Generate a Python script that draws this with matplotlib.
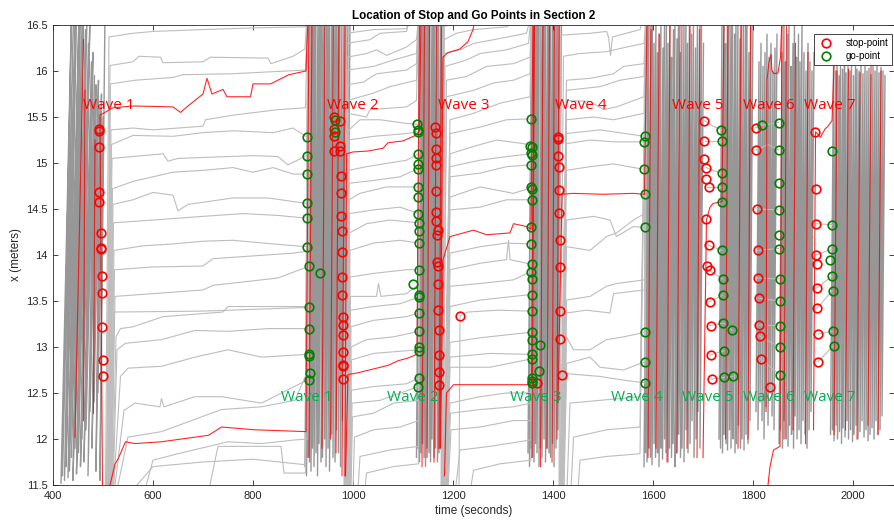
import numpy as np
import matplotlib.pyplot as plt
from matplotlib.ticker import FuncFormatter

plt.rcParams['font.family'] = ['Liberation Sans', 'DejaVu Sans']

# stop points (time s, position m)
stop_t = [492, 492, 492, 492, 493, 496, 497, 497, 498, 498, 499, 500, 501,
          963, 975, 963, 963, 975, 963, 975, 976, 977, 977, 979, 979, 979, 979, 980, 980, 980, 980, 980, 981, 981,
          1164, 1167, 1166, 1166, 1167, 1167, 1167, 1167, 1170, 1169, 1169, 1170, 1170, 1170, 1172, 1172, 1173, 1173,
          1215, 1368,
          1409, 1410, 1410, 1411, 1411, 1411, 1413, 1413, 1414, 1414, 1417,
          1701, 1701, 1701, 1705, 1706, 1711, 1706, 1711, 1707, 1713, 1714, 1715, 1715, 1717,
          1805, 1806, 1807, 1809, 1810, 1812, 1812, 1813, 1815, 1833,
          1924, 1925, 1926, 1926, 1927, 1928, 1928, 1930, 1930]
stop_x = [15.37, 15.35, 15.17, 14.68, 14.58, 14.24, 14.08, 14.07, 13.77, 13.59, 13.22, 12.86, 12.68,
          15.50, 15.46, 15.37, 15.29, 15.19, 15.13, 15.13, 14.86, 14.67, 14.42, 14.26, 14.03, 13.76, 13.57,
          13.33, 13.24, 13.13, 12.95, 12.80, 12.79, 12.65,
          15.39, 15.33, 15.15, 15.05, 14.98, 14.70, 14.47, 14.37, 14.27, 14.22, 13.92, 13.88, 13.68, 13.40,
          13.18, 12.91, 12.73, 12.59,
          13.34, 12.61,
          15.28, 15.26, 15.08, 14.96, 14.71, 14.46, 14.16, 13.87, 13.39, 13.09, 12.70,
          15.46, 15.24, 15.04, 14.95, 14.83, 14.74, 14.39, 14.11, 13.88, 13.84, 13.49, 13.23, 12.91, 12.65,
          15.38, 15.14, 14.50, 14.05, 13.75, 13.53, 13.24, 13.12, 12.87, 12.57,
          15.34, 14.72, 14.34, 14.00, 13.90, 13.64, 13.42, 13.14, 12.84]

# go points
go_t = [909, 909, 909, 909, 909, 909, 912, 935, 912, 912, 912, 913, 915, 912,
        964, 965, 1129, 1131, 1131, 1131, 1131, 1131, 1131, 1131, 1131, 1132, 1132, 1132, 1133, 1121,
        1133, 1133, 1133, 1133, 1133, 1133, 1133, 1131,
        1356, 1353, 1358, 1356, 1358, 1356, 1356, 1358, 1358, 1356, 1356,
        1358, 1356, 1358, 1358, 1358, 1358, 1358, 1374, 1358, 1358, 1371, 1358, 1358, 1358,
        1583, 1582, 1582, 1583, 1583, 1583, 1583, 1584,
        1736, 1737, 1737, 1737, 1737, 1737, 1739, 1740, 1740, 1758, 1741, 1741, 1759,
        1817, 1851, 1851, 1851, 1851, 1851, 1851, 1853, 1853, 1854, 1854, 1854,
        1958, 1958, 1958, 1954, 1958, 1959, 1959, 1961]
go_x = [15.28, 15.08, 14.88, 14.56, 14.40, 14.09, 13.88, 13.80, 13.43, 13.20, 12.92, 12.90, 12.72, 12.64,
        15.47, 15.34, 15.42, 15.36, 15.34, 15.10, 14.99, 14.94, 14.74, 14.63, 14.45, 14.35, 14.26, 14.13,
        13.84, 13.68, 13.57, 13.54, 13.37, 13.17, 13.00, 12.96, 12.66, 12.57,
        15.48, 15.19, 15.17, 15.11, 15.09, 14.98, 14.74, 14.72, 14.60, 14.30, 14.12,
        13.90, 13.82, 13.74, 13.57, 13.39, 13.16, 13.08, 13.02, 12.92, 12.87, 12.74, 12.66, 12.63, 12.61,
        15.29, 15.23, 14.93, 14.66, 14.30, 13.16, 12.84, 12.61,
        15.36, 15.24, 14.89, 14.74, 14.58, 14.05, 13.74, 13.56, 13.26, 13.18, 12.96, 12.67, 12.68,
        15.41, 15.44, 15.14, 14.78, 14.49, 14.22, 14.07, 13.74, 13.50, 13.23, 13.00, 12.70,
        15.13, 14.33, 14.06, 13.95, 13.77, 13.61, 13.17, 13.01]

# vehicles passing through during each wave: entry (bottom) and exit (top)
w1_t_in = [416, 419, 423, 426, 430, 433, 437, 440, 444, 447, 451, 455, 458, 462, 466, 470, 474, 478, 482, 486, 490, 494]
w1_x_in = [11.52, 11.6, 11.55, 11.7, 11.58, 11.65, 11.8, 11.55, 11.9, 11.62, 11.85, 11.7, 12.0, 11.75, 12.1, 11.6,
           12.3, 11.9, 12.4, 11.65, 12.5, 11.55]
w1_t_out = [437, 441, 445, 447, 452, 455, 458, 461, 465, 468, 471, 474, 477, 480, 483, 486, 489, 491, 494, 497, 500, 504]
w1_x_out = [16.6, 16.6, 16.6, 16.6, 16.6, 16.6, 16.5, 16.6, 16.45, 16.6, 16.3, 16.6, 16.1, 16.2, 15.95, 15.85,
            15.7, 15.9, 15.6, 15.75, 15.5, 16.6]

w2_t_in = [904, 907, 910, 913, 916, 919, 922, 926, 929, 932, 936, 939, 943, 946, 950, 953, 957, 960, 964, 967,
           971, 975, 979, 983, 987]
w2_x_in = [11.7, 11.6, 11.8, 11.75, 11.65, 11.9, 11.7, 11.85, 11.6, 11.95, 11.75, 11.8, 12.0, 11.7, 11.9, 11.65,
           12.05, 11.8, 11.75, 12.1, 11.85, 11.7, 12.2, 11.9, 11.6]
w2_t_out = [911, 914, 917, 920, 923, 926, 930, 933, 936, 940, 943, 947, 950, 953, 957, 960, 964, 967, 971, 974,
            978, 982, 986, 990, 994]
w2_x_out = 16.6

w3_t_in = [1127, 1130, 1133, 1136, 1139, 1142, 1145, 1148, 1152, 1155, 1158, 1162, 1165, 1169, 1172, 1176]
w3_x_in = [11.8, 11.9, 11.75, 11.85, 11.95, 11.8, 11.7, 11.9, 11.85, 11.75, 12.0, 11.8, 11.9, 11.75, 11.85, 12.1]
w3_t_out = [1133, 1136, 1139, 1142, 1145, 1148, 1151, 1154, 1158, 1161, 1164, 1168, 1171, 1175, 1178, 1182]
w3_x_out = 16.6

w4_t_in = [1350, 1353, 1356, 1359, 1362, 1365, 1368, 1372, 1375, 1378, 1382, 1385, 1388, 1392, 1395, 1399,
           1402, 1406, 1410]
w4_x_in = [11.85, 11.7, 11.9, 11.8, 11.75, 11.95, 11.85, 11.7, 11.9, 11.8, 12.0, 11.75, 11.9, 11.85, 11.8, 11.95,
           11.7, 11.9, 12.1]
w4_t_out = [1357, 1360, 1363, 1366, 1369, 1372, 1375, 1379, 1382, 1385, 1389, 1392, 1395, 1399, 1402, 1406,
            1409, 1413, 1417]
w4_x_out = 16.6

w5a_t_in = [1582, 1585, 1588, 1592, 1595, 1598, 1602, 1605, 1609, 1612, 1616, 1619, 1623, 1626, 1630, 1633,
            1637, 1640, 1644, 1647, 1651, 1655, 1658, 1662, 1666, 1670, 1674, 1678, 1682, 1686, 1690, 1694]
w5a_x_in = [11.7, 11.85, 11.75, 11.9, 11.8, 11.72, 11.95, 11.8, 11.85, 11.7, 11.9, 11.78, 12.0, 11.85, 11.75,
            11.9, 11.8, 11.95, 11.7, 11.85, 12.05, 11.8, 11.9, 11.75, 12.1, 11.85, 11.95, 12.2, 11.8, 12.0, 12.3, 11.9]
w5a_t_out = [1589, 1592, 1596, 1599, 1602, 1606, 1609, 1613, 1616, 1620, 1623, 1627, 1630, 1634, 1637, 1641,
             1644, 1648, 1651, 1655, 1658, 1662, 1666, 1669, 1673, 1677, 1681, 1685, 1689, 1693, 1697, 1701]
w5a_x_out = [16.6, 16.6, 16.45, 16.6, 16.3, 16.6, 16.2, 16.4, 16.6, 16.25, 16.5, 16.6, 16.3, 16.6, 16.15, 16.45,
             16.6, 16.35, 16.6, 16.2, 16.6, 16.5, 16.6, 16.3, 16.6, 16.4, 16.6, 16.25, 16.6, 16.45, 16.6, 16.3]

w5b_t_in = [1732, 1735, 1739, 1742, 1746, 1749, 1753, 1756, 1760, 1764, 1767, 1771, 1775, 1778, 1782, 1786, 1790, 1794]
w5b_x_in = [12.0, 11.9, 11.85, 12.05, 11.95, 11.88, 12.1, 11.9, 12.0, 11.85, 11.95, 12.15, 11.9, 12.0, 11.88,
            12.05, 11.95, 12.2]
w5b_t_out = [1738, 1742, 1745, 1749, 1752, 1756, 1759, 1763, 1766, 1770, 1774, 1777, 1781, 1785, 1788, 1792, 1796, 1800]
w5b_x_out = [16.6, 16.6, 16.3, 16.6, 16.5, 16.6, 16.6, 16.4, 16.6, 16.6, 16.35, 16.6, 16.6, 16.5, 16.6, 16.2,
             16.6, 16.6]

w6a_t_in = [1806, 1810, 1814, 1818, 1822, 1826, 1830, 1834, 1838, 1842]
w6a_x_in = [12.3, 12.1, 12.4, 12.2, 12.0, 12.35, 12.15, 12.5, 12.25, 12.1]
w6a_t_out = [1812, 1816, 1820, 1824, 1828, 1832, 1836, 1840, 1844, 1848]
w6a_x_out = [16.1, 16.3, 16.05, 16.2, 16.4, 16.15, 16.3, 16.0, 16.25, 16.4]

w6b_t_in = [1852, 1855, 1859, 1862, 1866, 1870, 1873, 1877, 1881, 1884, 1888, 1892, 1896, 1900, 1904, 1908, 1912, 1916]
w6b_x_in = [11.95, 12.1, 11.9, 12.2, 12.0, 11.92, 12.15, 12.05, 11.9, 12.25, 12.0, 12.1, 11.95, 12.2, 12.05,
            11.9, 12.1, 12.3]
w6b_t_out = [1858, 1862, 1865, 1869, 1872, 1876, 1880, 1883, 1887, 1891, 1894, 1898, 1902, 1906, 1910, 1914, 1918, 1922]
w6b_x_out = [16.2, 16.6, 16.1, 16.4, 16.6, 16.05, 16.3, 16.6, 16.15, 16.4, 16.1, 16.5, 16.2, 16.0, 16.3, 16.1,
             16.0, 16.2]

w7_t_in = [1955, 1959, 1962, 1966, 1969, 1973, 1977, 1980, 1984, 1988, 1991, 1995, 1999, 2002, 2006, 2010, 2014,
           2018, 2022, 2026, 2030, 2034, 2038, 2042, 2046, 2050, 2054, 2058]
w7_x_in = [12.05, 12.1, 11.98, 12.15, 12.0, 12.08, 11.95, 12.12, 12.02, 12.2, 12.0, 12.1, 11.97, 12.05, 12.15,
           12.0, 12.08, 12.2, 12.02, 12.1, 11.98, 12.05, 12.12, 12.0, 12.2, 12.05, 12.1, 12.25]
w7_t_out = [1961, 1965, 1968, 1972, 1975, 1979, 1983, 1986, 1990, 1994, 1997, 2001, 2005, 2008, 2012, 2016, 2020,
            2024, 2028, 2032, 2036, 2040, 2044, 2048, 2052, 2056, 2060, 2064]
w7_x_out = [16.05, 16.0, 16.08, 15.95, 16.05, 16.02, 16.1, 15.98, 16.05, 16.0, 16.08, 15.95, 16.05, 16.02, 16.0,
            16.08, 15.97, 16.05, 16.0, 16.03, 15.96, 16.05, 16.0, 16.08, 15.98, 16.04, 16.0, 15.95]

# highlighted vehicles crossing during the waves
red_t_in = [444, 461, 481, 912, 938, 955, 966, 978, 1138, 1148, 1162, 1172, 1358, 1375, 1388, 1398, 1408,
            1590, 1606, 1628, 1648, 1668, 1688, 1745, 1770, 1790, 1862, 1880, 1905, 1962, 1985, 2008, 2030, 2050]
red_x_in = [12.02, 12.2, 12.28, 11.8, 11.9, 12.0, 11.85, 11.6, 11.7, 11.8, 11.75, 11.9, 11.8, 11.7, 11.9, 11.75,
            12.0, 11.8, 11.9, 11.75, 11.85, 11.9, 11.8, 12.0, 11.9, 12.0, 12.0, 12.1, 11.95, 12.05, 12.1, 12.0,
            12.15, 12.05]
red_t_out = [461, 464, 484, 918, 944, 961, 972, 984, 1143, 1153, 1167, 1177, 1363, 1380, 1393, 1403, 1412,
             1596, 1612, 1634, 1654, 1674, 1694, 1750, 1776, 1795, 1867, 1885, 1910, 1968, 1991, 2014, 2036, 2056]
red_x_out = [16.34, 15.79, 15.25, 16.6, 16.6, 16.6, 16.6, 16.6, 16.6, 16.6, 16.6, 16.6, 16.6, 16.6, 16.6, 16.6,
             16.6, 16.6, 16.4, 16.6, 16.6, 16.5, 16.6, 16.6, 16.6, 16.6, 16.6, 16.3, 16.2, 16.0, 16.02, 15.98,
             16.05, 16.0]

# queued vehicles creeping forward between waves
gap1_paths = [
    [(505, 11.45), (512, 16.37), (560, 16.41), (600, 16.43), (700, 16.45), (810, 16.47), (905, 16.48), (908, 16.6)],
    [(507, 11.45), (514, 16.06), (560, 16.10), (572, 16.16), (615, 16.15), (620, 16.09), (700, 16.10), (715, 16.15),
     (830, 16.14), (836, 16.08), (880, 16.16), (904, 16.24), (908, 16.6)],
    [(508, 11.45), (515, 15.86), (565, 15.90), (640, 15.93), (660, 15.96), (760, 15.97), (830, 15.99), (905, 16.01),
     (909, 16.6)],
    [(509, 11.45), (516, 15.36), (560, 15.38), (600, 15.36), (700, 15.40), (705, 15.47), (760, 15.52), (850, 15.58),
     (905, 15.60), (909, 16.6)],
    [(510, 11.45), (517, 15.20), (560, 15.30), (640, 15.29), (700, 15.33), (760, 15.35), (840, 15.33), (880, 15.38),
     (908, 15.28), (911, 16.6)],
    [(511, 11.45), (518, 15.05), (580, 15.08), (620, 15.10), (630, 15.02), (650, 15.05), (800, 15.08), (850, 15.07),
     (870, 14.98), (907, 15.08), (911, 16.6)],
    [(512, 11.45), (519, 14.72), (560, 14.80), (640, 14.90), (700, 14.92), (760, 14.95), (800, 14.90), (840, 14.95),
     (880, 14.88), (908, 14.88), (911, 16.6)],
    [(513, 11.45), (520, 14.55), (560, 14.60), (600, 14.68), (640, 14.65), (650, 14.48), (670, 14.55), (760, 14.62),
     (830, 14.62), (908, 14.56), (911, 16.6)],
    [(514, 11.45), (521, 14.35), (600, 14.38), (700, 14.42), (780, 14.45), (850, 14.43), (908, 14.40), (911, 16.6)],
    [(515, 11.45), (522, 14.05), (580, 14.10), (640, 14.12), (700, 14.15), (760, 14.16), (840, 14.12), (908, 14.09),
     (911, 16.6)],
    [(516, 11.45), (523, 13.84), (600, 13.87), (700, 13.88), (720, 13.96), (800, 13.99), (880, 14.02), (908, 14.04),
     (911, 16.6)],
    [(517, 11.45), (524, 13.55), (600, 13.58), (700, 13.62), (720, 13.67), (850, 13.75), (908, 13.87), (911, 16.6)],
    [(518, 11.45), (522, 13.38), (700, 13.39), (908, 13.43), (911, 16.6)],
    [(519, 11.45), (526, 13.11), (535, 13.20), (560, 13.22), (620, 13.33), (740, 13.38), (750, 13.44), (906, 13.44),
     (910, 16.6)],
    [(520, 11.45), (528, 12.97), (545, 13.04), (617, 13.08), (684, 13.18), (750, 13.17), (830, 13.20), (908, 13.20),
     (911, 16.6)],
    [(521, 11.45), (535, 12.68), (550, 12.77), (617, 12.79), (684, 12.89), (750, 12.97), (817, 12.89), (908, 12.92),
     (911, 16.6)],
    [(523, 11.45), (542, 12.31), (564, 12.39), (614, 12.35), (617, 12.44), (622, 12.35), (684, 12.46), (737, 12.46),
     (817, 12.39), (908, 12.64), (912, 16.6)],
    [(528, 11.45), (550, 12.02), (617, 12.08), (737, 12.32), (817, 12.35), (884, 12.42), (908, 12.72), (912, 16.6)],
    [(584, 11.45), (600, 11.77), (650, 11.84), (750, 11.97), (817, 11.95), (884, 11.99), (910, 12.0), (914, 16.6)],
    [(712, 11.45), (730, 11.92), (856, 11.92), (862, 11.63), (905, 11.63), (912, 16.6)],
    [(560, 11.45), (600, 11.70), (700, 11.75), (800, 11.78), (905, 11.72), (912, 16.6)],
]
gap1_red = [
    [(499, 11.45), (494, 15.52), (520, 15.60), (560, 15.62), (640, 15.61), (655, 15.55), (670, 15.62), (700, 15.75),
     (708, 15.92), (718, 15.75), (740, 15.80), (748, 15.72), (795, 15.72), (800, 15.86), (835, 15.86), (872, 15.96),
     (906, 16.0), (910, 16.6)],
    [(512, 11.45), (524, 11.73), (530, 11.78), (545, 11.97), (564, 11.95), (617, 11.97), (711, 12.04), (737, 12.13),
     (804, 12.10), (906, 12.08), (912, 16.6)],
]

gap2_paths = [
    [(982, 11.45), (987, 16.41), (1041, 16.45), (1107, 16.46), (1112, 16.6)],
    [(983, 11.45), (987, 16.30), (1034, 16.34), (1054, 16.41), (1107, 16.43), (1115, 16.6)],
    [(984, 11.45), (988, 16.15), (1027, 16.19), (1047, 16.23), (1067, 16.17), (1107, 16.26), (1127, 16.34), (1131, 16.6)],
    [(985, 11.45), (988, 16.01), (1041, 16.05), (1081, 16.12), (1127, 16.19), (1131, 16.6)],
    [(985, 11.45), (989, 15.85), (1021, 15.88), (1047, 15.97), (1107, 16.01), (1127, 16.08), (1131, 16.6)],
    [(986, 11.45), (989, 15.68), (1041, 15.76), (1074, 15.83), (1127, 15.90), (1131, 16.6)],
    [(986, 11.45), (990, 15.54), (1027, 15.50), (1034, 15.58), (1107, 15.61), (1127, 15.68), (1131, 16.6)],
    [(987, 11.45), (990, 15.35), (1014, 15.47), (1054, 15.47), (1107, 15.43), (1131, 15.42), (1134, 16.6)],
    [(987, 11.45), (991, 15.25), (1041, 15.29), (1107, 15.32), (1131, 15.34), (1134, 16.6)],
    [(988, 11.45), (991, 14.92), (1027, 14.96), (1061, 14.99), (1107, 15.03), (1131, 15.10), (1134, 16.6)],
    [(988, 11.45), (992, 14.78), (1041, 14.81), (1094, 14.85), (1131, 14.94), (1134, 16.6)],
    [(989, 11.45), (992, 14.60), (1014, 14.67), (1067, 14.74), (1131, 14.74), (1134, 16.6)],
    [(989, 11.45), (993, 14.45), (1041, 14.49), (1094, 14.52), (1131, 14.45), (1134, 16.6)],
    [(990, 11.45), (993, 14.24), (1027, 14.34), (1074, 14.38), (1131, 14.35), (1134, 16.6)],
    [(990, 11.45), (994, 14.05), (1041, 14.13), (1094, 14.16), (1131, 14.13), (1134, 16.6)],
    [(991, 11.45), (994, 13.76), (1041, 13.80), (1107, 13.84), (1131, 13.84), (1134, 16.6)],
    [(991, 11.45), (995, 13.55), (1047, 13.55), (1051, 13.69), (1056, 13.55), (1107, 13.58), (1131, 13.68),
     (1134, 16.6)],
    [(992, 11.45), (995, 13.40), (1041, 13.44), (1094, 13.47), (1131, 13.54), (1134, 16.6)],
    [(992, 11.45), (996, 13.22), (1041, 13.29), (1107, 13.33), (1131, 13.37), (1134, 16.6)],
    [(993, 11.45), (996, 13.00), (1027, 13.08), (1081, 13.11), (1131, 13.17), (1134, 16.6)],
    [(993, 11.45), (997, 12.86), (1041, 12.93), (1131, 12.97), (1134, 16.6)],
    [(994, 11.45), (997, 12.53), (1041, 12.57), (1107, 12.60), (1131, 12.66), (1134, 16.6)],
    [(995, 11.45), (998, 12.39), (1054, 12.42), (1131, 12.57), (1134, 16.6)],
    [(996, 11.45), (999, 12.24), (1041, 12.28), (1081, 12.39), (1131, 12.42), (1134, 16.6)],
    [(1000, 11.45), (1003, 12.02), (1041, 12.10), (1094, 12.13), (1131, 12.20), (1134, 16.6)],
    [(1010, 11.45), (1014, 11.81), (1074, 11.88), (1131, 11.92), (1134, 16.6)],
    [(1024, 11.45), (1027, 11.63), (1081, 11.70), (1131, 11.73), (1134, 16.6)],
]
gap2_red = [
    [(984, 11.6), (987, 15.10), (1000, 15.12), (1030, 15.13), (1060, 15.16), (1070, 15.22), (1100, 15.24),
     (1125, 15.30), (1133, 15.35), (1136, 16.6)],
    [(985, 11.6), (990, 12.70), (1010, 12.72), (1040, 12.76), (1070, 12.80), (1090, 12.85), (1110, 12.88),
     (1128, 12.92), (1133, 16.6)],
]

gap3_paths = [
    [(1176, 11.45), (1181, 16.48), (1200, 16.52), (1210, 16.6)],
    [(1177, 11.45), (1182, 16.34), (1207, 16.41), (1241, 16.45), (1307, 16.48), (1340, 16.6)],
    [(1178, 11.45), (1183, 16.19), (1214, 16.23), (1241, 16.30), (1281, 16.34), (1347, 16.41), (1356, 16.6)],
    [(1178, 11.45), (1184, 16.05), (1227, 16.12), (1254, 16.19), (1307, 16.23), (1351, 16.30), (1356, 16.6)],
    [(1179, 11.45), (1187, 15.90), (1227, 15.94), (1267, 16.05), (1321, 16.08), (1354, 16.15), (1357, 16.6)],
    [(1180, 11.45), (1187, 15.72), (1241, 15.79), (1281, 15.87), (1321, 15.90), (1354, 15.97), (1357, 16.6)],
    [(1181, 11.45), (1194, 15.47), (1241, 15.54), (1294, 15.65), (1354, 15.72), (1357, 16.6)],
    [(1181, 11.45), (1194, 15.32), (1254, 15.39), (1307, 15.47), (1356, 15.48), (1359, 16.6)],
    [(1182, 11.45), (1194, 15.10), (1241, 15.18), (1287, 15.25), (1341, 15.21), (1356, 15.19), (1359, 16.6)],
    [(1182, 11.45), (1194, 14.96), (1254, 15.03), (1307, 15.07), (1356, 15.10), (1359, 16.6)],
    [(1183, 11.45), (1194, 14.85), (1254, 14.89), (1307, 14.96), (1356, 14.98), (1359, 16.6)],
    [(1183, 11.45), (1194, 14.63), (1254, 14.74), (1321, 14.67), (1356, 14.73), (1359, 16.6)],
    [(1184, 11.45), (1194, 14.49), (1254, 14.52), (1307, 14.60), (1356, 14.60), (1359, 16.6)],
    [(1184, 11.45), (1194, 14.02), (1254, 14.09), (1307, 14.13), (1356, 14.12), (1359, 16.6)],
    [(1185, 11.45), (1194, 13.84), (1254, 13.91), (1307, 13.95), (1311, 14.16), (1314, 13.95), (1356, 13.90),
     (1359, 16.6)],
    [(1185, 11.45), (1194, 13.66), (1254, 13.69), (1321, 13.73), (1356, 13.82), (1359, 16.6)],
    [(1186, 11.45), (1194, 13.44), (1254, 13.51), (1321, 13.55), (1356, 13.57), (1359, 16.6)],
    [(1212, 11.45), (1214, 13.34), (1230, 13.38), (1290, 13.40), (1356, 13.39), (1359, 16.6)],
    [(1186, 11.45), (1194, 13.05), (1254, 13.10), (1321, 13.14), (1356, 13.16), (1359, 16.6)],
    [(1187, 11.45), (1194, 12.89), (1274, 12.93), (1356, 12.92), (1359, 16.6)],
    [(1187, 11.45), (1194, 12.78), (1274, 12.78), (1356, 12.87), (1359, 16.6)],
    [(1188, 11.45), (1194, 12.39), (1254, 12.46), (1307, 12.50), (1354, 12.50), (1371, 12.74), (1374, 16.6)],
    [(1189, 11.45), (1195, 12.28), (1254, 12.32), (1321, 12.35), (1356, 12.39), (1359, 16.6)],
    [(1190, 11.45), (1196, 12.10), (1254, 12.13), (1321, 12.20), (1356, 12.20), (1359, 16.6)],
    [(1205, 11.45), (1214, 11.88), (1274, 11.92), (1356, 11.99), (1359, 16.6)],
    [(1235, 11.45), (1241, 11.66), (1294, 11.73), (1356, 11.77), (1359, 16.6)],
]
gap3_red = [
    [(1175, 11.9), (1180, 13.95), (1194, 14.20), (1241, 14.27), (1267, 14.22), (1314, 14.24), (1321, 14.34),
     (1347, 14.31), (1356, 14.28), (1360, 16.6)],
    [(1183, 11.6), (1187, 12.50), (1201, 12.59), (1354, 12.59), (1357, 12.62), (1362, 16.6)],
    [(1174, 11.9), (1180, 16.15), (1190, 16.20), (1214, 16.24), (1230, 16.32), (1240, 16.45), (1245, 16.6)],
]

gap4_paths = [
    [(1412, 11.45), (1416, 16.39), (1474, 16.41), (1507, 16.43), (1511, 16.37), (1515, 16.17), (1519, 16.37),
     (1574, 16.45), (1582, 16.6)],
    [(1413, 11.45), (1421, 16.16), (1454, 16.19), (1507, 16.21), (1547, 16.26), (1582, 16.30), (1586, 16.6)],
    [(1414, 11.45), (1427, 15.90), (1474, 15.92), (1521, 15.97), (1541, 16.05), (1582, 16.08), (1586, 16.6)],
    [(1415, 11.45), (1427, 15.79), (1494, 15.83), (1534, 15.90), (1582, 15.94), (1586, 16.6)],
    [(1415, 11.45), (1427, 15.68), (1474, 15.67), (1501, 15.58), (1527, 15.61), (1582, 15.72), (1586, 16.6)],
    [(1416, 11.45), (1427, 15.47), (1481, 15.50), (1521, 15.47), (1582, 15.54), (1586, 16.6)],
    [(1416, 11.45), (1427, 15.32), (1494, 15.36), (1583, 15.29), (1586, 16.6)],
    [(1417, 11.45), (1427, 15.21), (1474, 15.25), (1521, 15.23), (1583, 15.23), (1586, 16.6)],
    [(1417, 11.45), (1427, 14.92), (1474, 14.96), (1521, 14.99), (1583, 14.93), (1586, 16.6)],
    [(1418, 11.45), (1427, 14.38), (1481, 14.42), (1514, 14.38), (1527, 14.20), (1561, 14.31), (1583, 14.30),
     (1586, 16.6)],
    [(1419, 11.45), (1427, 14.09), (1474, 14.05), (1507, 14.20), (1527, 14.24), (1561, 14.38), (1583, 14.45),
     (1586, 16.6)],
    [(1420, 11.45), (1427, 13.51), (1474, 13.55), (1507, 13.66), (1527, 13.69), (1583, 13.73), (1586, 16.6)],
    [(1420, 11.45), (1427, 13.37), (1467, 13.40), (1514, 13.37), (1521, 13.58), (1583, 13.62), (1586, 16.6)],
    [(1421, 11.45), (1427, 13.11), (1441, 12.97), (1474, 12.97), (1507, 13.08), (1541, 13.11), (1584, 13.16),
     (1587, 16.6)],
    [(1421, 11.45), (1427, 12.82), (1474, 12.89), (1494, 12.78), (1541, 12.75), (1584, 12.84), (1587, 16.6)],
    [(1422, 11.45), (1427, 12.71), (1494, 12.68), (1541, 12.64), (1584, 12.61), (1587, 16.6)],
    [(1428, 11.45), (1434, 12.39), (1494, 12.42), (1574, 12.46), (1586, 16.6)],
    [(1436, 11.45), (1441, 12.02), (1507, 12.10), (1574, 12.13), (1586, 16.6)],
    [(1450, 11.45), (1454, 11.77), (1507, 11.81), (1574, 11.84), (1586, 16.6)],
]
gap4_red = [
    [(1410, 12.4), (1418, 14.66), (1440, 14.67), (1500, 14.66), (1560, 14.67), (1583, 14.66), (1588, 16.6)],
]

# short queues during waves 5-7
late_paths = [
    [(1703, 15.46), (1720, 15.40), (1737, 15.36)],
    [(1703, 15.24), (1737, 15.24)],
    [(1706, 14.95), (1720, 14.92), (1737, 14.89)],
    [(1708, 14.74), (1737, 14.74)],
    [(1710, 14.11), (1737, 14.05)],
    [(1709, 13.84), (1722, 13.80), (1739, 13.74)],
    [(1711, 13.49), (1739, 13.56)],
    [(1712, 13.23), (1742, 13.26), (1758, 13.18)],
    [(1713, 12.91), (1742, 12.96)],
    [(1717, 12.65), (1742, 12.67), (1759, 12.68)],
    [(1805, 15.38), (1817, 15.41), (1851, 15.44)],
    [(1806, 15.14), (1830, 15.20), (1851, 15.14)],
    [(1807, 14.50), (1851, 14.49)],
    [(1809, 14.05), (1851, 14.07)],
    [(1810, 13.75), (1852, 13.74)],
    [(1812, 13.53), (1852, 13.50)],
    [(1812, 13.24), (1853, 13.23)],
    [(1813, 13.12), (1853, 13.00)],
    [(1815, 12.87), (1853, 12.70)],
    [(1926, 14.34), (1958, 14.33)],
    [(1926, 14.00), (1956, 14.06)],
    [(1927, 13.64), (1958, 13.77)],
    [(1928, 13.42), (1958, 13.61)],
    [(1930, 13.14), (1958, 13.17)],
    [(1930, 12.84), (1960, 13.01)],
]
late_red = [
    [(1700, 11.8), (1707, 14.38), (1714, 14.52), (1720, 14.56), (1738, 14.58), (1742, 16.6)],
    [(1830, 11.5), (1834, 11.70), (1841, 11.88), (1854, 11.92), (1858, 16.6)],
    [(1826, 12.3), (1828, 15.9), (1832, 16.1), (1836, 16.18), (1838, 16.0), (1842, 15.97), (1850, 15.98),
     (1855, 16.15), (1858, 16.6)],
    [(1921, 12.1), (1925, 15.34), (1935, 15.28), (1944, 15.37), (1950, 15.40), (1958, 15.46), (1962, 16.05)],
]

wave_names = ['Wave 1', 'Wave 2', 'Wave 3', 'Wave 4', 'Wave 5', 'Wave 6', 'Wave 7']
stop_label_t = [460, 948, 1170, 1404, 1638, 1780, 1902]
go_label_t = [856, 1068, 1314, 1516, 1658, 1780, 1902]
stop_label_x = 15.63
go_label_x = 12.45


def zigzag(t_in, x_in, t_out, x_out):
    n = len(t_in)
    t = np.column_stack([t_in, t_out]).ravel()
    x = np.column_stack([x_in, np.broadcast_to(x_out, (n,))]).ravel()
    return t, x


fig = plt.figure(figsize=(8.95, 5.22), dpi=100)
ax = fig.add_axes([0.0592, 0.0709, 0.9397, 0.8812])

bundles = [(w1_t_in, w1_x_in, w1_t_out, w1_x_out), (w2_t_in, w2_x_in, w2_t_out, w2_x_out),
           (w3_t_in, w3_x_in, w3_t_out, w3_x_out), (w4_t_in, w4_x_in, w4_t_out, w4_x_out),
           (w5a_t_in, w5a_x_in, w5a_t_out, w5a_x_out), (w5b_t_in, w5b_x_in, w5b_t_out, w5b_x_out),
           (w6a_t_in, w6a_x_in, w6a_t_out, w6a_x_out), (w6b_t_in, w6b_x_in, w6b_t_out, w6b_x_out),
           (w7_t_in, w7_x_in, w7_t_out, w7_x_out)]
for b in bundles:
    t, x = zigzag(*b)
    ax.plot(t, x, color='0.42', lw=1.0, alpha=0.7, zorder=1)

for p in gap1_paths + gap2_paths + gap3_paths + gap4_paths + late_paths:
    t, x = zip(*p)
    ax.plot(t, x, color='0.74', lw=0.8, zorder=2)

for i in range(len(red_t_in)):
    ax.plot([red_t_in[i], red_t_out[i]], [red_x_in[i], red_x_out[i]], color='red', lw=0.8, alpha=0.8, zorder=3)
for p in gap1_red + gap2_red + gap3_red + gap4_red + late_red:
    t, x = zip(*p)
    ax.plot(t, x, color='red', lw=0.8, alpha=0.85, zorder=3)

ax.plot(stop_t, stop_x, 'o', mfc='none', mec='red', ms=6.2, mew=1.2, zorder=5, label='stop-point')
ax.plot(go_t, go_x, 'o', mfc='none', mec='#008000', ms=6.2, mew=1.2, zorder=5, label='go-point')

for name, ts, tg in zip(wave_names, stop_label_t, go_label_t):
    ax.text(ts, stop_label_x, name, color='red', fontsize=11, family=['Open Sans', 'DejaVu Sans'],
            ha='left', va='center', zorder=6)
    ax.text(tg, go_label_x, name, color='#00b050', fontsize=11, family=['Open Sans', 'DejaVu Sans'],
            ha='left', va='center', zorder=6)

ax.set_xlim(400, 2082)
ax.set_ylim(11.5, 16.5)
ax.set_xticks([400, 600, 800, 1000, 1200, 1400, 1600, 1800, 2000])
ax.set_yticks([11.5, 12, 12.5, 13, 13.5, 14, 14.5, 15, 15.5, 16, 16.5])
ax.yaxis.set_major_formatter(FuncFormatter(lambda v, _: '%g' % v))
ax.tick_params(direction='in', length=3.5, width=0.6, top=True, right=True, labelsize=8,
               colors='0.15', pad=4)
for s in ax.spines.values():
    s.set_color('0.15')
    s.set_linewidth(0.6)

ax.set_title('Location of Stop and Go Points in Section 2', fontsize=8.4, fontweight='bold', pad=4)
ax.set_xlabel('time (seconds)', fontsize=8.5, color='0.15', labelpad=3)
ax.set_ylabel('x (meters)', fontsize=8.5, color='0.15', labelpad=3)

leg = ax.legend(loc='upper right', bbox_to_anchor=(0.9976, 0.980), fontsize=7, frameon=True, fancybox=False,
                edgecolor='0.15', framealpha=1, borderpad=0.4, labelspacing=0.35, handlelength=1.6,
                handletextpad=1.2, borderaxespad=0)
leg.get_frame().set_linewidth(0.6)
leg.set_zorder(10)

fig.savefig('out.png', dpi=100)
